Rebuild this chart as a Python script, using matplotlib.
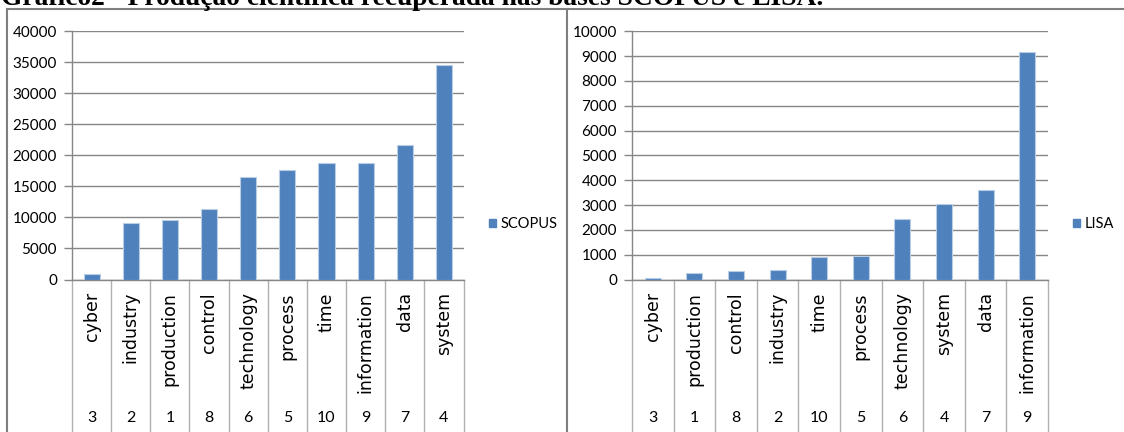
import matplotlib
matplotlib.use("Agg")
import matplotlib.pyplot as plt
from matplotlib.lines import Line2D
from matplotlib.patches import Patch
import matplotlib.transforms as mtransforms

plt.rcParams['font.family'] = ['Lato', 'DejaVu Sans']

title = "Gráfico2 - Produção científica recuperada nas bases SCOPUS e LISA."

# SCOPUS
scopus_terms = ["cyber", "industry", "production", "control", "technology",
                "process", "time", "information", "data", "system"]
scopus_rank = ["3", "2", "1", "8", "6", "5", "10", "9", "7", "4"]
scopus_vals = [950, 9100, 9600, 11300, 16500, 17600, 18700, 18700, 21700, 34500]

# LISA
lisa_terms = ["cyber", "production", "control", "industry", "time",
              "process", "technology", "system", "data", "information"]
lisa_rank = ["3", "1", "8", "2", "10", "5", "6", "4", "7", "9"]
lisa_vals = [50, 270, 350, 390, 890, 930, 2420, 3040, 3590, 9170]

W, H = 1124, 432
BAR = "#4F81BD"
GRID = "#868686"
SEP = "#b0b0b0"

fig = plt.figure(figsize=(W / 100, H / 100), dpi=100)
fig.patch.set_facecolor("white")


def px_rect(x0, x1, ytop, ybot):
    return [x0 / W, (H - ybot) / H, (x1 - x0) / W, (ybot - ytop) / H]


def draw_chart(rect, terms, ranks, vals, ymax, step, name, barw, leg_x):
    ax = fig.add_axes(rect)
    x = list(range(len(terms)))
    ax.bar(x, vals, width=barw, color=BAR, edgecolor="#b9cde5",
           linewidth=0.8, zorder=3, label=name)
    ax.set_xlim(-0.5, len(terms) - 0.5)
    ax.set_ylim(0, ymax)
    ax.set_yticks(range(0, ymax + 1, step))
    ax.yaxis.grid(True, color=GRID, linewidth=1.0, zorder=0)
    ax.set_xticks([])
    for s in ["top", "right"]:
        ax.spines[s].set_visible(False)
    for s in ["left", "bottom"]:
        ax.spines[s].set_color(GRID)
        ax.spines[s].set_linewidth(1.0)
    ax.tick_params(axis="y", length=5.8, width=1.0, color=GRID, pad=5,
                   labelsize=11, labelcolor="#000000")

    bottom_frac = rect[1]
    height = rect[3]
    ylow = -bottom_frac / height - 0.02
    trans = mtransforms.blended_transform_factory(ax.transData, ax.transAxes)
    for i in range(len(terms) + 1):
        ax.plot([i - 0.5, i - 0.5], [0, ylow], color=SEP, linewidth=1.0,
                transform=trans, clip_on=False)

    top_px = 279.5
    plot_h = top_px - 31.3
    word_y = (top_px - 292) / plot_h
    num_y = (top_px - 417.5) / plot_h
    for i, (t, r) in enumerate(zip(terms, ranks)):
        ax.text(i, word_y, t, rotation=90, ha="center", va="top",
                transform=trans, fontsize=12.5, family="DejaVu Sans",
                color="#000000")
        ax.text(i, num_y, r, ha="center", va="center", transform=trans,
                fontsize=11.5, color="#000000")

    handles = [Patch(facecolor=BAR, edgecolor=BAR, label=name)]
    fig.legend(handles=handles, loc="center left",
               bbox_to_anchor=(leg_x / W, (H - 224) / H), frameon=False,
               fontsize=10.5, handlelength=0.5, handleheight=0.5,
               handletextpad=0.3, borderaxespad=0, borderpad=0)
    return ax


draw_chart(px_rect(72, 463.5, 31.3, 279.5), scopus_terms, scopus_rank,
           scopus_vals, 40000, 5000, "SCOPUS", 0.41, 489)
draw_chart(px_rect(632, 1048, 31.3, 279.5), lisa_terms, lisa_rank,
           lisa_vals, 10000, 1000, "LISA", 0.385, 1073)

# panel borders
bc = "#7f7f7f"
ytop = 1 - 9 / H
fig.add_artist(Line2D([7 / W, 1.0], [ytop, ytop], color=bc, linewidth=1.5))
fig.add_artist(Line2D([7 / W, 7 / W], [0, ytop], color=bc, linewidth=1.5))
fig.add_artist(Line2D([567 / W, 567 / W], [0, ytop], color=bc, linewidth=1.5))

# title (cut off at the top edge, as in the source)
tt = fig.text(1 / W, 1 - 5 / H, title, family=["Liberation Serif", "DejaVu Serif"],
              weight="bold", fontsize=16, va="baseline", ha="left")
fig.canvas.draw()
w = tt.get_window_extent().width
tt.set_fontsize(16 * 825 / w)

fig.savefig("out.png", dpi=100, facecolor="white")
